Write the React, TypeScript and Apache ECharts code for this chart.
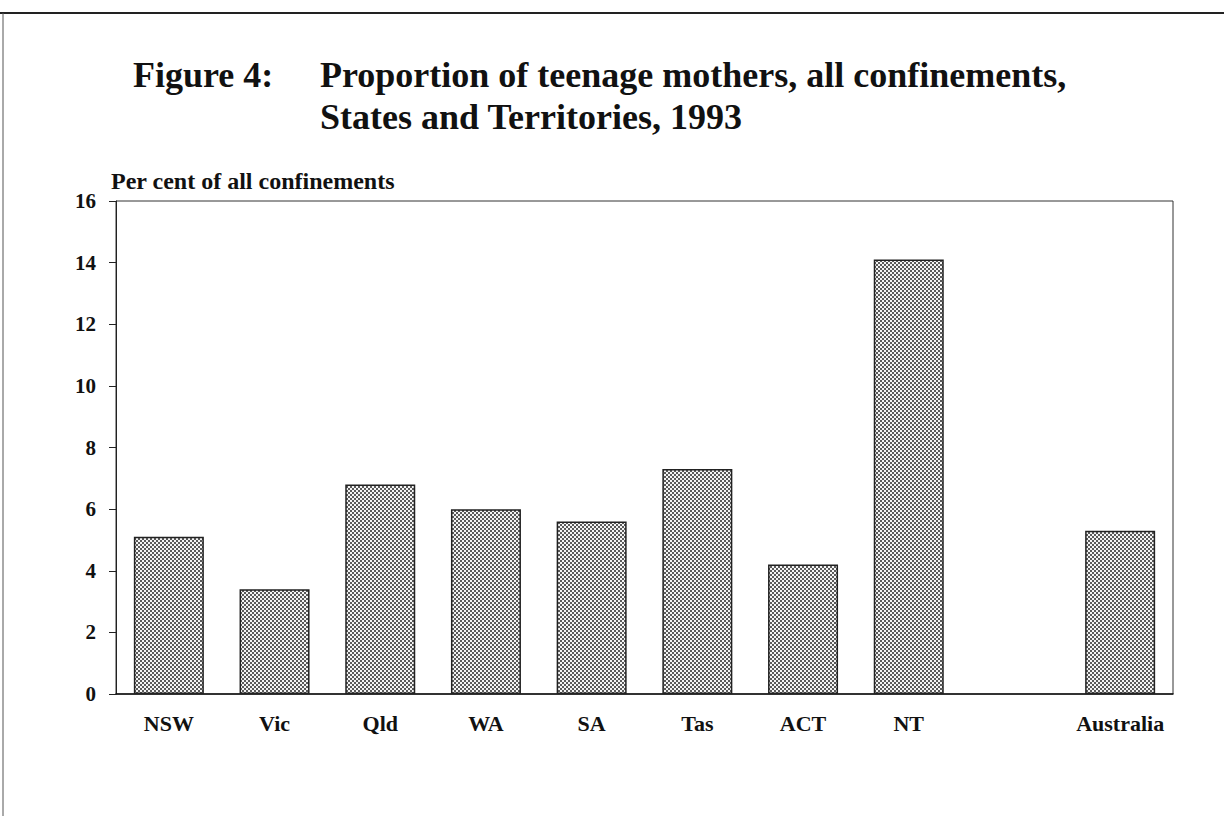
import React, { useEffect, useRef } from "react";
import * as echarts from "echarts";

const categories = ["NSW", "Vic", "Qld", "WA", "SA", "Tas", "ACT", "NT", "", "Australia"];
const values: (number | string)[] = [5.1, 3.4, 6.8, 6.0, 5.6, 7.3, 4.2, 14.1, "-", 5.3];
const titleLeft = "Figure 4:";
const titleRight = "Proportion of teenage mothers, all confinements,\nStates and Territories, 1993";
const yAxisName = "Per cent of all confinements";

const FONT = "'Liberation Serif', 'Times New Roman', serif";

function makePattern(): HTMLCanvasElement {
  const c = document.createElement("canvas");
  c.width = 4;
  c.height = 4;
  const ctx = c.getContext("2d")!;
  ctx.fillStyle = "#f4f4f4";
  ctx.fillRect(0, 0, 4, 4);
  ctx.fillStyle = "#5a5a5a";
  ctx.fillRect(0, 0, 2, 2);
  ctx.fillRect(2, 2, 2, 2);
  return c;
}

export default function App() {
  const ref = useRef<HTMLDivElement>(null);
  useEffect(() => {
    document.body.style.margin = "0";
    const chart = echarts.init(ref.current!, null, { renderer: "svg" });
    const pattern = makePattern();
    chart.setOption({
      animation: false,
      backgroundColor: "#ffffff",
      title: [
        {
          text: titleLeft,
          left: 133,
          top: 54,
          padding: 0,
          textStyle: { fontFamily: FONT, fontWeight: "bold", fontSize: 36, lineHeight: 42, color: "#111" },
        },
        {
          text: titleRight,
          left: 320,
          top: 54,
          padding: 0,
          textStyle: { fontFamily: FONT, fontWeight: "bold", fontSize: 36, lineHeight: 42, color: "#111" },
        },
      ],
      graphic: [
        { type: "line", shape: { x1: 0, y1: 13, x2: 1224, y2: 13 }, style: { stroke: "#222", lineWidth: 2 } },
        { type: "line", shape: { x1: 3, y1: 13, x2: 3, y2: 816 }, style: { stroke: "#555", lineWidth: 1 } },
      ],
      grid: {
        left: 116,
        top: 201,
        width: 1057,
        height: 493,
        show: true,
        borderColor: "#333",
        borderWidth: 1,
        backgroundColor: "transparent",
      },
      xAxis: {
        type: "category",
        data: categories,
        axisTick: { show: false },
        axisLine: { show: true, lineStyle: { color: "#111", width: 1.5 } },
        axisLabel: {
          margin: 18,
          fontFamily: FONT,
          fontWeight: "bold",
          fontSize: 22,
          color: "#111",
          interval: 0,
        },
      },
      yAxis: {
        type: "value",
        min: 0,
        max: 16,
        interval: 2,
        name: yAxisName,
        nameLocation: "end",
        nameGap: 20,
        nameTextStyle: {
          align: "left",
          verticalAlign: "middle",
          fontFamily: FONT,
          fontWeight: "bold",
          fontSize: 24,
          color: "#111",
          padding: [0, 0, 0, -5],
        },
        splitLine: { show: false },
        axisLine: { show: true, lineStyle: { color: "#222", width: 1 } },
        axisTick: { show: true, length: 7, lineStyle: { color: "#222" } },
        axisLabel: {
          margin: 20,
          fontFamily: FONT,
          fontWeight: "bold",
          fontSize: 21,
          color: "#111",
        },
      },
      series: [
        {
          type: "bar",
          data: values,
          barWidth: 70,
          itemStyle: {
            color: { image: pattern, repeat: "repeat" },
            borderColor: "#222",
            borderWidth: 1.5,
          },
        },
      ],
    });
    return () => chart.dispose();
  }, []);
  return <div ref={ref} style={{ width: 1224, height: 816 }} />;
}
